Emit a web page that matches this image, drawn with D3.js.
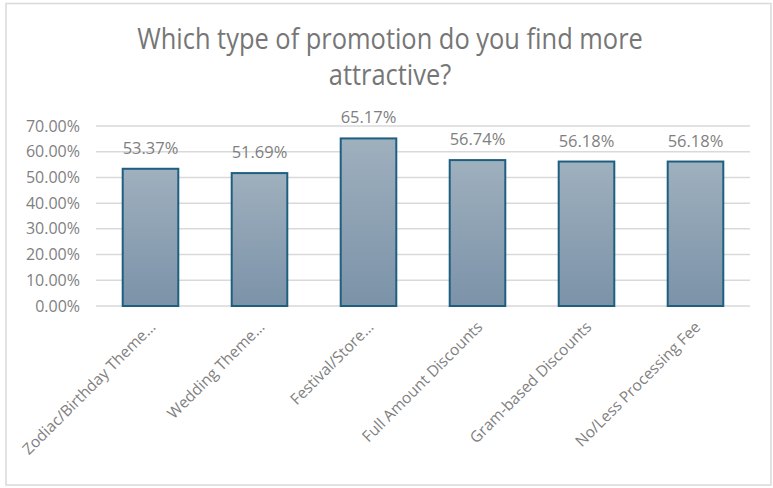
<!DOCTYPE html>
<html>
<head>
<meta charset="utf-8">
<script src="https://cdn.jsdelivr.net/npm/d3@7"></script>
<style>
  html, body { margin: 0; padding: 0; background: #fff; }
  svg { display: block; }
  text { font-family: "Open Sans", "Liberation Sans", sans-serif; }
</style>
</head>
<body>
<svg id="chart" width="773" height="488"></svg>
<script>
// Survey: share of respondents attracted by each promotion type
const categories = [
  "Zodiac/Birthday Theme…",
  "Wedding Theme…",
  "Festival/Store…",
  "Full Amount Discounts",
  "Gram-based Discounts",
  "No/Less Processing Fee"
];
const values = [53.37, 51.69, 65.17, 56.74, 56.18, 56.18];
const yTicks = [0, 10, 20, 30, 40, 50, 60, 70];
const titleLines = ["Which type of promotion do you find more", "attractive?"];

const W = 773, H = 488;
const margin = { left: 96, right: 23, top: 126, bottom: 182 };

const svg = d3.select("#chart");

// outer frame
svg.append("rect")
  .attr("x", 6).attr("y", 3.5).attr("width", 765).attr("height", 481.5)
  .attr("fill", "#fff").attr("stroke", "#d9d9d9").attr("stroke-width", 1.5);

// gradient for bars
const grad = svg.append("defs").append("linearGradient")
  .attr("id", "barGrad").attr("x1", 0).attr("y1", 0).attr("x2", 0).attr("y2", 1);
grad.append("stop").attr("offset", "0%").attr("stop-color", "#9fb0be");
grad.append("stop").attr("offset", "100%").attr("stop-color", "#7b92a8");

const x = d3.scaleBand()
  .domain(categories)
  .range([margin.left, W - margin.right])
  .paddingInner(0.49)
  .paddingOuter(0.245);

const y = d3.scaleLinear()
  .domain([0, 70])
  .range([H - margin.bottom, margin.top]);

// title: narrow face, compressed horizontally to the title block width
const titleX = 390;
const titleWidth = 506;
const titleG = svg.append("g");
const titleText = titleG.selectAll("text").data(titleLines).join("text")
  .attr("text-anchor", "middle")
  .attr("fill", "#767676")
  .attr("font-size", 30)
  .attr("font-family", "'Liberation Sans Narrow', 'Roboto', sans-serif")
  .attr("x", 0)
  .attr("y", (d, i) => 49 + i * 36)
  .text(d => d);
// one horizontal scale for both lines so the letterforms match
const firstLen = titleText.node().getComputedTextLength();
const sc = firstLen > 0 ? titleWidth / firstLen : 1;
titleText.attr("transform", `translate(${titleX},0) scale(${sc},1)`);

// gridlines
svg.append("g")
  .selectAll("line").data(yTicks).join("line")
  .attr("x1", margin.left).attr("x2", W - margin.right)
  .attr("y1", d => y(d)).attr("y2", d => y(d))
  .attr("stroke", "#d9d9d9").attr("stroke-width", 1.5);

// y axis labels
const yAxis = d3.axisLeft(y).tickValues(yTicks)
  .tickSize(0).tickPadding(16)
  .tickFormat(d => d.toFixed(2) + "%");
const gy = svg.append("g")
  .attr("transform", `translate(${margin.left},0)`)
  .call(yAxis);
gy.select(".domain").remove();
gy.selectAll("text")
  .attr("fill", "#7f7f7f")
  .attr("font-size", 16)
  .attr("font-family", "'Open Sans', sans-serif");

// bars
svg.append("g")
  .selectAll("rect").data(values).join("rect")
  .attr("x", (d, i) => x(categories[i]))
  .attr("y", d => y(d))
  .attr("width", x.bandwidth())
  .attr("height", d => y(0) - y(d))
  .attr("fill", "url(#barGrad)")
  .attr("stroke", "#1e5f80")
  .attr("stroke-width", 2);

// value labels
svg.append("g")
  .selectAll("text").data(values).join("text")
  .attr("x", (d, i) => x(categories[i]) + x.bandwidth() / 2)
  .attr("y", d => y(d) - 15)
  .attr("text-anchor", "middle")
  .attr("fill", "#7f7f7f")
  .attr("font-size", 16.5)
  .text(d => d.toFixed(2) + "%");

// category labels, rotated
const xAxis = d3.axisBottom(x).tickSize(0).tickPadding(0);
const gx = svg.append("g")
  .attr("transform", `translate(0,${y(0)})`)
  .call(xAxis);
gx.select(".domain").remove();
gx.selectAll("text")
  .attr("fill", "#7f7f7f")
  .attr("font-size", 15.5)
  .attr("font-family", "'Open Sans', sans-serif")
  .attr("text-anchor", "end")
  .attr("dy", null)
  .attr("y", 0)
  .attr("transform", "translate(6,22) rotate(-45)");
</script>
</body>
</html>
